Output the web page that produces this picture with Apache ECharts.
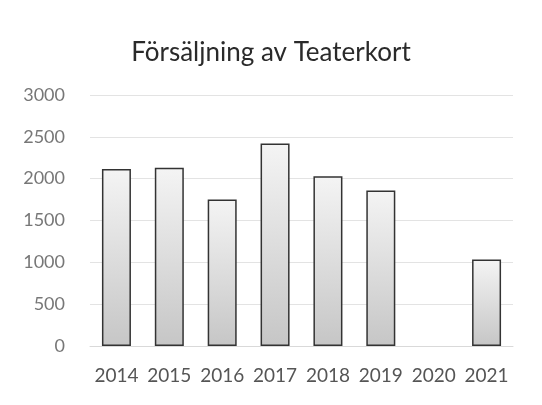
<!DOCTYPE html>
<html>
<head>
<meta charset="utf-8">
<title>Försäljning av Teaterkort</title>
<script src="https://cdn.jsdelivr.net/npm/echarts@6/dist/echarts.min.js"></script>
<style>
	html, body { margin: 0; padding: 0; background: #fff; }
	#chart { width: 542px; height: 405px; }
</style>
</head>
<body>
<div id="chart"></div>
<script type="text/javascript">
	// data
	var years = ['2014', '2015', '2016', '2017', '2018', '2019', '2020', '2021'];
	var sales = [2115, 2130, 1750, 2420, 2030, 1860, 0, 1035];
	var yTicks = [0, 500, 1000, 1500, 2000, 2500, 3000];

	var labelFont = 'Lato, sans-serif';

	var option = {
		backgroundColor: '#fff',
		animation: false,
		title: {
			text: 'Försäljning av Teaterkort',
			left: 'center',
			top: 35,
			textStyle: {
				fontFamily: labelFont,
				fontSize: 26,
				fontWeight: 'normal',
				color: '#2a2a2a'
			}
		},
		grid: {
			left: 90,
			right: 29,
			top: 95,
			bottom: 59
		},
		xAxis: {
			type: 'category',
			data: years,
			axisTick: { show: false },
			axisLine: { lineStyle: { color: '#d9d9d9' } },
			axisLabel: {
				interval: 0,
				color: '#555',
				fontSize: 19,
				fontFamily: labelFont,
				margin: 20
			}
		},
		yAxis: {
			type: 'value',
			min: yTicks[0],
			max: yTicks[yTicks.length - 1],
			interval: 500,
			axisLine: { show: false },
			axisTick: { show: false },
			splitLine: { lineStyle: { color: '#e3e3e3' } },
			axisLabel: {
				color: '#777',
				fontSize: 18,
				fontFamily: labelFont,
				margin: 25,
				formatter: function (v) { return String(v); }
			}
		},
		series: [{
			type: 'bar',
			// a zero year draws no bar at all, as in the picture
			data: sales.map(function (v) { return v === 0 ? '-' : v; }),
			barWidth: 29,
			itemStyle: {
				color: new echarts.graphic.LinearGradient(0, 0, 0, 1, [
					{ offset: 0, color: '#f4f4f4' },
					{ offset: 1, color: '#c6c6c6' }
				]),
				borderColor: '#333',
				borderWidth: 1.5
			}
		}]
	};

	var myChart = echarts.init(document.getElementById('chart'));
	myChart.setOption(option);
</script>
</body>
</html>
